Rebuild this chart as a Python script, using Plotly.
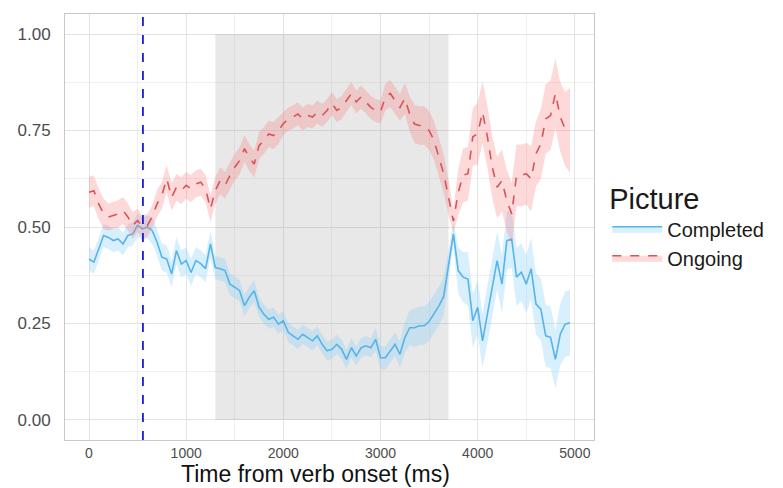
import plotly.graph_objects as go

time_ms = list(range(0, 5000, 50))

completed = [
    0.417, 0.409, 0.443, 0.478, 0.473, 0.465, 0.469, 0.456, 0.478, 0.482,
    0.504, 0.495, 0.500, 0.491, 0.461, 0.422, 0.417, 0.378, 0.439, 0.404,
    0.413, 0.382, 0.413, 0.405, 0.392, 0.456, 0.395, 0.392, 0.387, 0.352,
    0.344, 0.335, 0.296, 0.318, 0.335, 0.292, 0.274, 0.261, 0.266, 0.248,
    0.257, 0.227, 0.218, 0.209, 0.222, 0.214, 0.205, 0.218, 0.196, 0.179,
    0.183, 0.196, 0.183, 0.157, 0.187, 0.166, 0.187, 0.192, 0.187, 0.209,
    0.161, 0.161, 0.179, 0.196, 0.170, 0.213, 0.239, 0.239, 0.244, 0.244,
    0.255, 0.275, 0.295, 0.320, 0.400, 0.482, 0.387, 0.370, 0.365, 0.257,
    0.292, 0.205, 0.274, 0.344, 0.413, 0.352, 0.465, 0.469, 0.370, 0.383,
    0.352, 0.392, 0.300, 0.287, 0.218, 0.214, 0.157, 0.222, 0.248, 0.252,
]

completed_ci = [
    0.030, 0.030, 0.030, 0.030, 0.030, 0.030, 0.030, 0.030, 0.030, 0.030,
    0.030, 0.030, 0.030, 0.035, 0.035, 0.035, 0.035, 0.035, 0.035, 0.035,
    0.035, 0.035, 0.035, 0.035, 0.035, 0.035, 0.030, 0.030, 0.030, 0.028,
    0.028, 0.028, 0.028, 0.028, 0.028, 0.025, 0.025, 0.025, 0.025, 0.025,
    0.025, 0.025, 0.025, 0.025, 0.025, 0.025, 0.025, 0.025, 0.025, 0.025,
    0.025, 0.025, 0.025, 0.025, 0.025, 0.025, 0.025, 0.025, 0.025, 0.030,
    0.030, 0.030, 0.030, 0.030, 0.035, 0.040, 0.045, 0.050, 0.050, 0.050,
    0.050, 0.050, 0.050, 0.050, 0.045, 0.030, 0.060, 0.065, 0.070, 0.070,
    0.070, 0.070, 0.075, 0.075, 0.075, 0.075, 0.075, 0.075, 0.075, 0.075,
    0.075, 0.080, 0.080, 0.080, 0.080, 0.080, 0.075, 0.080, 0.085, 0.085,
]

ongoing = [
    0.590, 0.594, 0.560, 0.534, 0.526, 0.530, 0.534, 0.543, 0.526, 0.504,
    0.517, 0.500, 0.504, 0.526, 0.560, 0.582, 0.625, 0.577, 0.603, 0.594,
    0.608, 0.599, 0.612, 0.616, 0.599, 0.547, 0.595, 0.620, 0.608, 0.633,
    0.655, 0.672, 0.703, 0.680, 0.663, 0.711, 0.724, 0.741, 0.737, 0.750,
    0.768, 0.780, 0.785, 0.793, 0.780, 0.789, 0.785, 0.798, 0.789, 0.802,
    0.820, 0.802, 0.810, 0.828, 0.846, 0.824, 0.837, 0.824, 0.810, 0.802,
    0.798, 0.837, 0.846, 0.828, 0.810, 0.833, 0.793, 0.767, 0.763, 0.763,
    0.750, 0.725, 0.681, 0.638, 0.577, 0.515, 0.590, 0.634, 0.638, 0.734,
    0.742, 0.798, 0.734, 0.655, 0.603, 0.620, 0.568, 0.534, 0.634, 0.634,
    0.638, 0.625, 0.690, 0.715, 0.780, 0.789, 0.846, 0.785, 0.754, 0.750,
]

ongoing_ci = [
    0.040, 0.040, 0.040, 0.040, 0.035, 0.035, 0.035, 0.035, 0.035, 0.035,
    0.030, 0.030, 0.030, 0.030, 0.035, 0.035, 0.035, 0.035, 0.035, 0.035,
    0.035, 0.035, 0.035, 0.035, 0.035, 0.035, 0.035, 0.035, 0.035, 0.035,
    0.035, 0.035, 0.035, 0.035, 0.035, 0.035, 0.035, 0.035, 0.035, 0.035,
    0.030, 0.030, 0.030, 0.030, 0.030, 0.030, 0.030, 0.030, 0.030, 0.030,
    0.030, 0.030, 0.030, 0.030, 0.030, 0.030, 0.030, 0.030, 0.030, 0.030,
    0.030, 0.035, 0.035, 0.035, 0.035, 0.040, 0.045, 0.050, 0.050, 0.050,
    0.050, 0.050, 0.050, 0.050, 0.045, 0.030, 0.060, 0.070, 0.070, 0.075,
    0.080, 0.080, 0.080, 0.080, 0.080, 0.080, 0.080, 0.080, 0.080, 0.080,
    0.080, 0.085, 0.085, 0.090, 0.090, 0.090, 0.090, 0.090, 0.095, 0.110,
]

window_start, window_end = 1300, 3700
verb_marker = 555

x_ticks = [0, 1000, 2000, 3000, 4000, 5000]
y_ticks = [0, 0.25, 0.5, 0.75, 1.0]
y_labels = ["0.00", "0.25", "0.50", "0.75", "1.00"]
x_title = "Time from verb onset (ms)"

series = [
    ("Completed", completed, completed_ci, "#56B4E9", "rgba(135,206,250,0.32)", "solid"),
    ("Ongoing", ongoing, ongoing_ci, "#D9545A", "rgba(248,118,118,0.28)", "dash"),
]

fig = go.Figure()
for name, vals, ci, lc, fc, dash in series:
    lower = [v - c for v, c in zip(vals, ci)]
    upper = [v + c for v, c in zip(vals, ci)]
    fig.add_trace(go.Scatter(x=time_ms, y=lower, mode="lines", line=dict(width=0),
                             showlegend=False, hoverinfo="skip", legendgroup=name))
    fig.add_trace(go.Scatter(x=time_ms, y=vals, mode="lines", name=name,
                             line=dict(color=lc, width=1.6, dash=dash),
                             fill="tonexty", fillcolor=fc, legendgroup=name))
    fig.add_trace(go.Scatter(x=time_ms, y=upper, mode="lines", line=dict(width=0),
                             fill="tonexty", fillcolor=fc,
                             showlegend=False, hoverinfo="skip", legendgroup=name))

fig.add_shape(type="rect", xref="x", yref="y", x0=window_start, x1=window_end, y0=0, y1=1,
              fillcolor="rgba(140,140,140,0.2)", line=dict(width=0), layer="between")
fig.add_shape(type="line", xref="x", yref="paper", x0=verb_marker, x1=verb_marker, y0=0, y1=1,
              line=dict(color="#1A1AD6", width=1.8, dash="dash"), layer="above")

fig.add_annotation(text=x_title, xref="paper", yref="paper", x=0.473, y=-0.1127,
                   xanchor="center", yanchor="bottom", showarrow=False, borderpad=0,
                   font=dict(size=23, color="#111111"))

fig.update_layout(
    width=783, height=488,
    margin=dict(l=65, r=189, t=14, b=48, autoexpand=False),
    paper_bgcolor="white", plot_bgcolor="white",
    font=dict(family="Liberation Sans, Arial, sans-serif", color="#4D4D4D"),
    legend=dict(
        title=dict(text="Picture", font=dict(size=29, color="#1A1A1A")),
        font=dict(size=20, color="#1A1A1A"),
        x=1.025, y=0.63, xanchor="left", yanchor="top",
        bgcolor="rgba(0,0,0,0)", tracegroupgap=0, itemwidth=50,
    ),
    showlegend=True,
)
fig.update_xaxes(
    range=[-247, 5197], tickvals=x_ticks, ticktext=[str(t) for t in x_ticks],
    showgrid=True, gridcolor="#E3E3E3", gridwidth=1, automargin=False,
    minor=dict(dtick=500, tick0=0, showgrid=True, gridcolor="#F0F0F0"),
    zeroline=False, showline=True, mirror=True, linecolor="#C8C8C8", linewidth=1,
    ticks="", tickfont=dict(size=14, color="#4D4D4D"), ticklabelstandoff=0,
)
fig.update_yaxes(
    range=[-0.052, 1.052], tickvals=y_ticks, ticktext=y_labels,
    showgrid=True, gridcolor="#E3E3E3", gridwidth=1, automargin=False,
    minor=dict(dtick=0.125, tick0=0, showgrid=True, gridcolor="#F0F0F0"),
    zeroline=False, showline=True, mirror=True, linecolor="#C8C8C8", linewidth=1,
    ticks="", tickfont=dict(size=17, color="#4D4D4D"), ticklabelstandoff=10,
)

fig.write_html("out.html")
